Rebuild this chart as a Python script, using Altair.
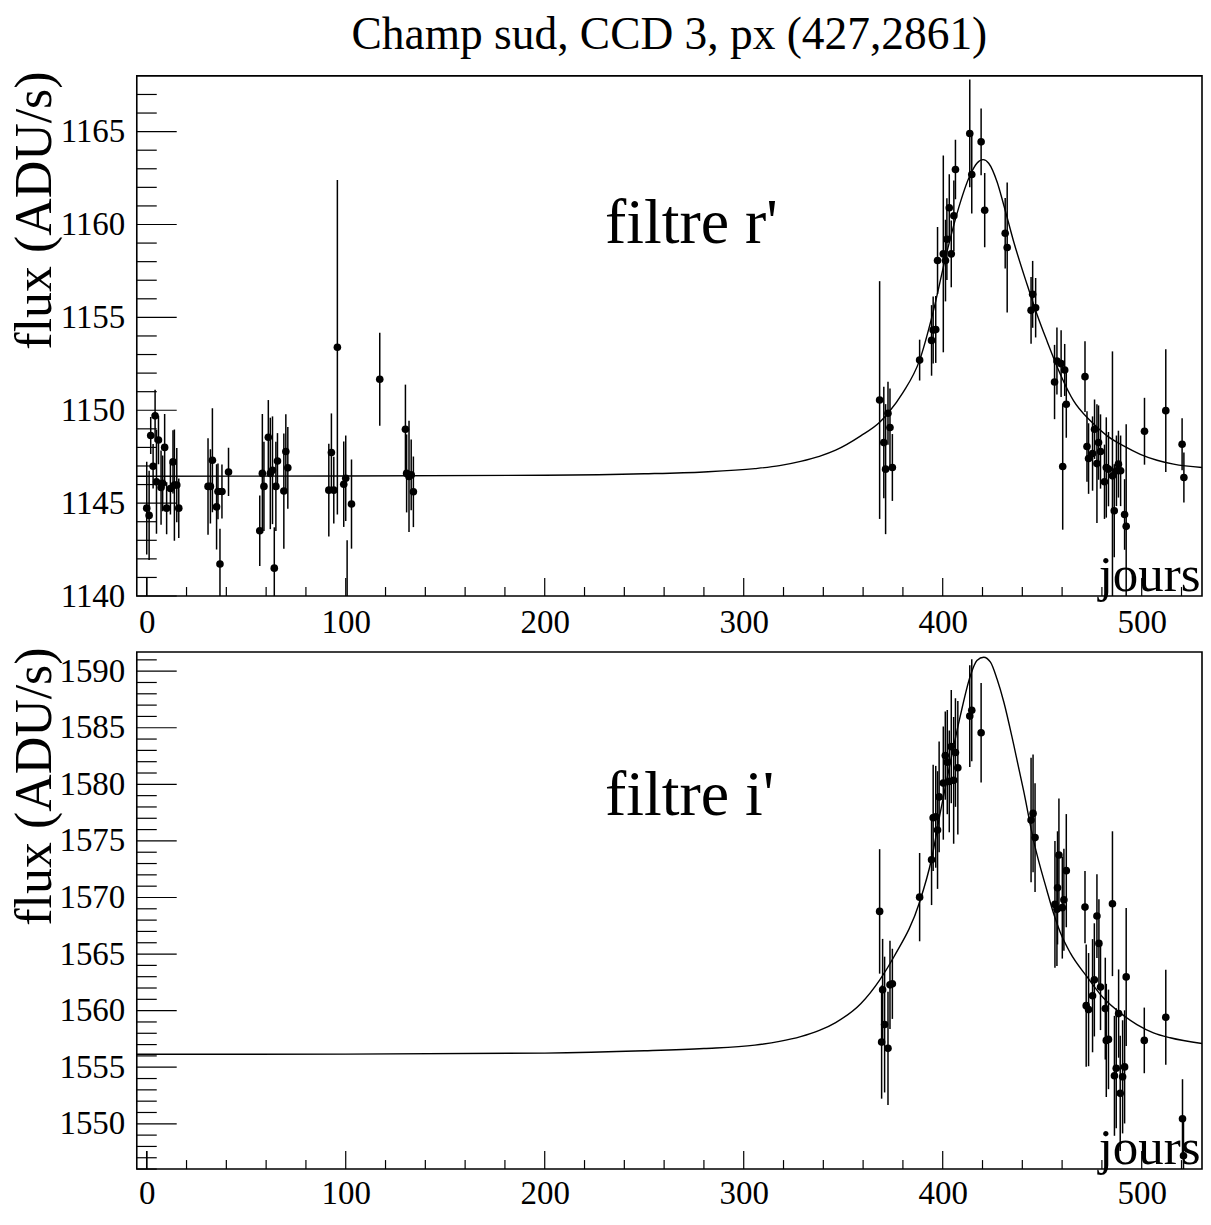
import altair as alt
import pandas as pd

# ---------------- data: filtre r' ----------------
r_day = [0.0, 1.2, 2.0, 3.2, 4.2, 4.9, 5.9, 7.2, 8.0, 9.0, 10.0, 11.9, 13.2, 13.9, 15.1, 16.1,
         30.8, 32.0, 33.0, 35.1, 35.8, 36.8, 37.8, 41.1,
         56.8, 58.1, 58.9, 61.1, 62.1, 63.2, 64.1, 64.9, 65.7, 68.9, 69.9, 70.9,
         91.5, 92.8, 94.0, 95.8, 99.0, 100.0, 100.7, 102.9, 117.1,
         130.0, 130.6, 131.8, 132.9, 134.0, 0.0,
         368.3, 370.4, 371.3, 372.5, 373.5, 374.7, 388.4, 394.4, 395.2, 396.5, 397.4, 400.3,
         401.4, 402.1, 403.3, 404.3, 405.6, 406.4, 413.6, 414.6, 419.3, 421.1, 431.4, 432.4,
         444.4, 445.2, 446.7, 456.2, 457.4, 459.5, 461.3, 462.1, 460.3, 471.5, 472.5, 473.3,
         475.3, 476.3, 477.5, 478.3, 479.3, 481.3, 482.2, 483.3, 485.3, 486.2, 487.3, 488.3,
         489.4, 491.4, 492.2, 501.4, 512.1, 520.3, 521.2]
r_flux = [1144.73, 1144.34, 1148.64, 1146.99, 1149.70, 1146.15, 1148.40, 1145.84, 1146.07, 1148.00,
          1144.73, 1145.79, 1147.22, 1145.97, 1145.97, 1144.73,
          1145.90, 1145.90, 1147.31, 1144.80, 1145.63, 1141.72, 1145.63, 1146.68,
          1143.51, 1146.60, 1145.90, 1148.55, 1146.60, 1146.77, 1141.50, 1145.90, 1147.27, 1145.65,
          1147.78, 1146.90,
          1145.70, 1147.73, 1145.70, 1153.39, 1146.02, 1146.34, 1137.50, 1144.95, 1151.67,
          1148.98, 1146.60, 1146.44, 1146.52, 1145.61, 1137.50,
          1150.55, 1148.26, 1146.83, 1149.84, 1149.07, 1146.92, 1152.70, 1153.76, 1154.32, 1154.35,
          1158.06, 1158.42, 1158.06, 1159.21, 1160.90, 1158.42, 1160.47, 1162.96, 1164.90, 1162.69,
          1164.45, 1160.77, 1159.53, 1158.76, 1155.38, 1156.24, 1155.52, 1151.52, 1152.65, 1152.51,
          1152.17, 1150.32, 1146.97, 1151.81, 1148.05, 1147.40, 1147.67, 1148.98, 1147.13, 1148.26,
          1147.78, 1146.15, 1146.92, 1146.83, 1146.47, 1144.59, 1146.74, 1147.10, 1146.74, 1144.39,
          1143.75, 1148.87, 1149.98, 1148.17, 1146.38]
r_err = [2.5, 2.4, 1.0, 1.2, 1.4, 2.8, 1.3, 2.0, 1.5, 1.8, 1.4, 1.4, 1.7, 3.0, 2.0, 1.6,
         2.6, 2.0, 2.8, 2.3, 1.5, 1.9, 1.45, 1.3,
         1.9, 3.2, 2.4, 2.0, 3.0, 2.9, 2.2, 2.4, 1.5, 3.1, 2.0, 2.2,
         2.5, 2.1, 1.8, 9.0, 2.3, 2.3, 5.5, 2.4, 2.5,
         2.4, 2.1, 3.0, 1.9, 1.9, 3.5,
         6.4, 3.0, 3.5, 1.7, 2.1, 1.8, 1.1, 1.9, 1.8, 1.8, 1.8, 5.3,
         2.2, 2.2, 1.8, 1.8, 1.9, 1.6, 2.9, 2.1, 1.8, 2.0, 1.9, 3.5,
         1.8, 1.8, 1.6, 2.0, 1.8, 1.8, 1.4, 1.8, 3.4, 1.9, 1.9, 1.9,
         2.0, 1.6, 3.2, 2.0, 2.0, 2.0, 2.7, 2.0, 6.7, 2.5, 1.9, 1.8,
         1.9, 1.9, 5.5, 1.8, 3.3, 1.4, 1.35]

r_fit_day = [-5, 100, 200, 250, 280, 305.6, 318, 328.6, 338, 346.2, 358.8, 368.3, 372.5, 380,
             388.4, 395.2, 401.4, 407.2, 413.9, 417.2, 420.3, 423.1, 427.3, 430.6, 435.6, 442.4,
             447.4, 452.4, 459.1, 465.8, 474.2, 482.6, 490.9, 499.3, 507.7, 516.0, 530.3]
r_fit_flux = [1146.45, 1146.46, 1146.50, 1146.58, 1146.68, 1146.86, 1147.02, 1147.25, 1147.52,
              1147.85, 1148.62, 1149.35, 1149.84, 1150.95, 1152.70, 1155.30, 1158.20, 1160.60,
              1162.69, 1163.30, 1163.49, 1163.30, 1162.30, 1161.08, 1159.10, 1156.77, 1155.16,
              1153.73, 1151.94, 1150.50, 1149.43, 1148.62, 1148.08, 1147.63, 1147.31, 1147.10,
              1146.92]

# ---------------- data: filtre i' ----------------
i_day = [368.3, 369.3, 369.8, 370.8, 372.5, 373.5, 374.7, 388.4, 394.4, 395.2, 396.5, 397.4,
         398.2, 400.3, 401.3, 402.3, 403.3, 404.3, 405.5, 406.4, 407.6, 413.6, 414.6, 419.3,
         444.4, 445.4, 446.4, 456.4, 457.4, 457.7, 458.4, 462.1, 460.1, 460.9,
         471.5, 472.1, 473.3, 475.3, 476.2, 477.5, 478.5, 479.3, 481.7, 482.2, 483.3, 485.3,
         486.3, 487.2, 488.4, 489.2, 490.4, 491.4, 492.2, 501.3, 512.1, 520.5, 521.0, 0.0]
i_flux = [1568.77, 1557.22, 1561.84, 1558.77, 1556.67, 1562.28, 1562.37, 1570.03, 1573.33,
          1577.04, 1577.13, 1575.96, 1578.89, 1580.11, 1582.54, 1581.96, 1580.26, 1583.33,
          1580.35, 1582.81, 1581.46, 1586.03, 1586.55, 1584.56,
          1576.84, 1577.43, 1575.29, 1569.39, 1568.95, 1570.85, 1573.75, 1572.37, 1569.10, 1569.80,
          1569.15, 1560.44, 1560.09, 1561.32, 1562.72, 1568.36, 1565.94, 1562.08, 1560.18, 1557.37,
          1557.46, 1569.45, 1554.24, 1554.91, 1559.74, 1552.69, 1554.15, 1555.03, 1562.98, 1557.37,
          1559.41, 1550.44, 1547.17, 1543.00]
i_err = [5.5, 5.0, 4.5, 6.0, 5.0, 3.9, 3.1, 3.9, 4.0, 4.7, 4.5, 5.2,
         4.9, 5.0, 3.9, 4.6, 4.5, 5.0, 5.6, 4.8, 5.9, 4.5, 4.5, 4.4,
         5.5, 5.2, 4.8, 5.6, 5.0, 5.0, 5.0, 5.0, 4.5, 4.5,
         3.2, 5.4, 5.0, 5.0, 5.0, 3.7, 3.9, 3.8, 4.5, 5.0, 4.4, 6.4,
         5.3, 5.3, 3.9, 5.1, 5.0, 5.0, 6.1, 2.9, 4.2, 3.5, 3.5, 4.6]

i_fit_day = [-5, 100, 200, 250, 280, 305.6, 318, 328.6, 338, 346.2, 358.8, 368.3, 375.5, 388.4,
             394.4, 398.9, 403.9, 408.9, 413.9, 417.2, 420.6, 424.0, 427.3, 430.7, 435.7, 440.7,
             445.7, 452.4, 455.7, 459.1, 464.1, 472.5, 480.8, 489.2, 497.6, 505.9, 514.3, 530.3]
i_fit_flux = [1556.14, 1556.16, 1556.25, 1556.45, 1556.65, 1556.95, 1557.28, 1557.70, 1558.25,
              1558.95, 1560.61, 1562.70, 1564.76, 1569.60, 1573.40, 1577.60, 1582.00, 1586.10,
              1589.60, 1590.94, 1591.23, 1590.79, 1589.30, 1587.28, 1583.48, 1579.39, 1575.00,
              1570.60, 1568.60, 1566.90, 1565.10, 1563.00, 1561.11, 1559.80, 1558.77, 1558.04,
              1557.60, 1557.10]

x_major = [0, 100, 200, 300, 400, 500]
x_minor = [v for v in range(0, 530, 20) if v % 100 != 0]
x_domain = [-5.0, 530.3]

r_domain = [1140, 1168]
r_major = [1140, 1145, 1150, 1155, 1160, 1165]
r_minor = [v for v in range(1141, 1168) if v % 5 != 0]

i_domain = [1546, 1591.7]
i_major = [1550, 1555, 1560, 1565, 1570, 1575, 1580, 1585, 1590]
i_minor = [v for v in range(1546, 1592) if v % 5 != 0]

main_title = "Champ sud, CCD 3, px (427,2861)"

W = 1067
SERIF = "Liberation Serif"


def panel(day, flux, err, fday, fflux, ydom, ymaj, ymin, label, height, label_y, xpad,
          title=None):
    df = pd.DataFrame({"day": day, "flux": flux,
                       "lo": [f - e for f, e in zip(flux, err)],
                       "hi": [f + e for f, e in zip(flux, err)]})
    fit = pd.DataFrame({"day": fday, "flux": fflux})
    xs = alt.Scale(domain=x_domain, nice=False, zero=False)
    ys = alt.Scale(domain=ydom, nice=False, zero=False)
    xax = alt.Axis(values=x_major, format="d", ticks=False, domain=False, grid=False,
                   labelFont=SERIF, labelFontSize=33, labelPadding=xpad, labelColor="black",
                   labelFlush=False, labelOverlap=False,
                   title="jours", titleFont=SERIF, titleFontSize=51, titleFontWeight="normal",
                   titleColor="black", titleX=W - 2, titleY=-6, titleAlign="right",
                   titleBaseline="alphabetic", titleAngle=0)
    yax = alt.Axis(values=ymaj, format="d", ticks=False, domain=False, grid=False,
                   labelFont=SERIF, labelFontSize=33, labelPadding=12, labelColor="black",
                   labelFlush=False, labelOverlap=False,
                   title="flux (ADU/s)", titleFont=SERIF, titleFontSize=52,
                   titleFontWeight="normal", titleColor="black", titleAngle=270,
                   titleAlign="right", titleBaseline="alphabetic", titleX=-86, titleY=-5)

    X = alt.X("day:Q", scale=xs, axis=xax)
    bars = alt.Chart(df).mark_rule(color="black", strokeWidth=1.5, clip=True).encode(
        x=X, y=alt.Y("lo:Q", scale=ys, axis=yax), y2="hi:Q")
    pts = alt.Chart(df).mark_circle(color="black", size=58, opacity=1, clip=True).encode(
        x=X, y=alt.Y("flux:Q", scale=ys, axis=yax))
    line = alt.Chart(fit).mark_line(color="black", strokeWidth=1.4, interpolate="monotone",
                                    clip=True).encode(
        x=X, y=alt.Y("flux:Q", scale=ys, axis=yax))

    xt_maj = alt.Chart(pd.DataFrame({"day": x_major})).mark_rule(color="black", strokeWidth=1.2).encode(
        x=X, y=alt.value(height), y2=alt.value(height - 18))
    xt_min = alt.Chart(pd.DataFrame({"day": x_minor})).mark_rule(color="black", strokeWidth=1.2).encode(
        x=X, y=alt.value(height), y2=alt.value(height - 9))
    yt_maj = alt.Chart(pd.DataFrame({"flux": ymaj})).mark_rule(color="black", strokeWidth=1.2).encode(
        y=alt.Y("flux:Q", scale=ys, axis=yax), x=alt.value(0), x2=alt.value(40))
    yt_min = alt.Chart(pd.DataFrame({"flux": ymin})).mark_rule(color="black", strokeWidth=1.2).encode(
        y=alt.Y("flux:Q", scale=ys, axis=yax), x=alt.value(0), x2=alt.value(20))

    txt = alt.Chart(pd.DataFrame({"s": [label]})).mark_text(
        font=SERIF, fontSize=64, align="left", baseline="alphabetic", color="black").encode(
        x=alt.value(469), y=alt.value(label_y), text="s:N")

    layers = [line, bars, pts, xt_maj, xt_min, yt_maj, yt_min, txt]
    if title is not None:
        ttl = alt.Chart(pd.DataFrame({"s": [title]})).mark_text(
            font=SERIF, fontSize=45.5, align="center", baseline="alphabetic",
            color="black").encode(x=alt.value(W / 2), y=alt.value(-27), text="s:N")
        layers.append(ttl)
    return alt.layer(*layers).properties(width=W, height=height)


top = panel(r_day, r_flux, r_err, r_fit_day, r_fit_flux, r_domain, r_major, r_minor,
            "filtre r'", 521, 167, 11, title=main_title)
bottom = panel(i_day, i_flux, i_err, i_fit_day, i_fit_flux, i_domain, i_major, i_minor,
               "filtre i'", 518, 163, 8)

chart = alt.vconcat(top, bottom, spacing=5).properties(
    padding={"left": 0, "top": 3, "right": 0, "bottom": 0},
    background="white",
).configure_view(stroke="black", strokeWidth=1.6)

chart.save("out.html", embed_options={"renderer": "svg", "actions": False})
